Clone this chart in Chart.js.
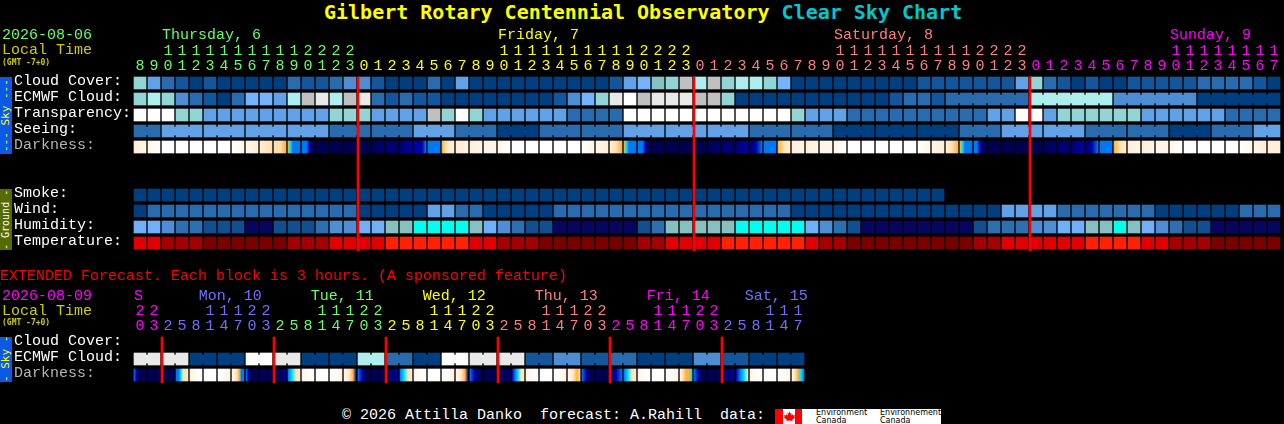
<!DOCTYPE html>
<html>
<head>
<meta charset="utf-8">
<title>Gilbert Rotary Centennial Observatory Clear Sky Chart</title>
<script src="https://cdn.jsdelivr.net/npm/chart.js@4"></script>
<style>
  body { margin: 0; background: #000; width: 1284px; height: 424px; overflow: hidden; position: relative; font-family: "Liberation Mono", monospace; }
  canvas { position: absolute; left: 0; }
  #title { position: absolute; top: 0; left: 324px; font: bold 20px/24px "DejaVu Sans Mono", monospace; color: #ffff00; white-space: pre; }
  #title span { color: #00c8d0; }
  .band { position: absolute; left: 0; width: 12px; writing-mode: vertical-rl; transform: rotate(180deg); text-align: center; font: 11px/12px "DejaVu Sans Mono", monospace; white-space: pre; }
  #footer { position: absolute; left: 342px; top: 407px; font-size: 15px; line-height: 17px; color: #fff; white-space: pre; }
  #logo { position: absolute; left: 775px; top: 409px; width: 166px; height: 15px; background: #fff; overflow: hidden; }
  #logo div { position: absolute; font: 8px/7.5px "DejaVu Sans", sans-serif; color: #000; white-space: pre; }
  #logo svg { position: absolute; left: 0; top: 0; }
</style>
</head>
<body>
<div id="title">Gilbert Rotary Centennial Observatory <span>Clear Sky Chart</span></div>
<div class="band" style="top:77px;height:77px;background:#0a5ae6;color:#ffff00">--- Sky ---</div>
<div class="band" style="top:189px;height:61px;background:#556b00;color:#fff;font-size:10px">- Ground -</div>
<div class="band" style="top:337px;height:45px;background:#0a5ae6;color:#ffff00">- Sky -</div>
<canvas id="topChart" width="1284" height="251" style="top:0"></canvas>
<canvas id="extChart" width="1284" height="119" style="top:264px"></canvas>
<div id="footer">© 2026 Attilla Danko  forecast: A.Rahill  data:</div>
<div id="logo">
  <svg width="27" height="15" viewBox="0 0 27 15">
    <rect x="0" width="8" height="15" fill="#f00"/>
    <rect x="20" width="7" height="15" fill="#f00"/>
    <path d="M14 2l1.3 2.4 1.2-.6-.4 2.8 1.6-1.4.5 1.2 1.8-.3-.6 1.9.8.4-2.9 2.4.3 1.1-2.9-.4V13h-.4v-1.5l-2.9.4.3-1.1-2.9-2.4.8-.4-.6-1.9 1.8.3.5-1.2 1.6 1.4-.4-2.8 1.2.6z" fill="#f00"/>
  </svg>
  <div style="left:41px;top:0">Environment
Canada</div>
  <div style="left:105px;top:0">Environnement
Canada</div>
</div>

<script>
// hours along the top, local time
const hours = [8,9,10,11,12,13,14,15,16,17,18,19,20,21,22,23,0,1,2,3,4,5,6,7,8,9,10,11,12,13,14,15,16,17,18,19,20,21,22,23,0,1,2,3,4,5,6,7,8,9,10,11,12,13,14,15,16,17,18,19,20,21,22,23,0,1,2,3,4,5,6,7,8,9,10,11,12,13,14,15,16,17];
const extHours = [20,23,2,5,8,11,14,17,20,23,2,5,8,11,14,17,20,23,2,5,8,11,14,17,20,23,2,5,8,11,14,17,20,23,2,5,8,11,14,17,20,23,2,5,8,11,14,17];

const rowNames = ['Cloud Cover:','ECMWF Cloud:','Transparency:','Seeing:','Darkness:','','','Smoke:','Wind:','Humidity:','Temperature:'];
const extRowNames = ['Cloud Cover:','ECMWF Cloud:','Darkness:'];

// sky levels, 0 = dark blue (good) to 11 = white (bad)
const cloudCover = [7,4,2,1,0,1,0,0,0,0,0,2,1,1,2,3,3,1,0,0,0,2,0,4,0,0,0,0,0,0,0,0,0,0,1,4,5,6,7,9,8,9,7,8,8,7,5,0,0,0,0,0,0,0,0,0,1,1,1,1,1,1,1,4,7,2,1,0,1,0,0,1,1,1,1,1,2,2,2,2,1,0];
const ecmwfCloud = [7,8,7,3,2,1,0,2,5,5,4,8,9,10,8,9,10,2,1,2,1,1,0,0,0,0,0,0,0,0,1,3,5,7,10,11,9,10,10,10,9,9,7,0,0,0,0,0,0,0,0,0,0,0,1,2,2,1,2,2,2,2,2,2,8,8,8,8,8,8,3,3,3,3,3,3,0,0,0,0,0,0];
const transparency = [11,11,11,7,7,4,4,4,4,4,4,4,4,4,7,7,7,4,4,4,4,9,7,11,7,4,4,4,4,4,4,2,2,2,2,11,11,11,11,11,11,11,11,11,11,11,11,7,4,4,4,2,2,2,2,2,2,2,2,2,2,4,4,11,11,4,7,7,7,7,7,7,4,4,4,4,4,4,2,2,2,2];
const seeing = [2,2,4,4,4,4,4,4,4,4,4,4,4,4,2,2,2,2,2,2,4,4,4,2,2,2,0,0,0,2,2,2,2,2,2,4,4,4,4,4,4,4,4,4,2,2,2,2,2,2,0,0,0,0,0,0,0,0,0,2,2,2,4,4,4,4,4,4,2,2,2,2,2,2,0,0,0,2,2,2,4,4];
const smoke = [0,0,0,0,0,0,0,0,0,0,0,0,0,0,0,0,0,0,0,0,0,0,0,0,0,0,0,0,0,0,0,0,0,0,0,0,0,0,0,0,0,0,0,0,0,0,0,0,0,0,0,0,0,0,0,0,0,0];
const wind = [0,2,2,2,2,2,2,2,2,2,2,2,2,2,2,2,0,0,0,0,0,4,4,2,2,0,0,0,0,0,2,2,2,2,2,2,2,2,2,2,2,2,2,2,2,2,2,0,0,0,0,0,0,0,0,0,0,0,0,0,0,0,4,4,4,4,2,2,2,2,2,2,2,0,0,0,0,0,0,2,2,2];
const humidity = [4,4,3,2,2,1,1,1,0,0,1,1,1,2,3,3,4,4,5,5,6,6,6,6,5,4,3,2,1,1,0,0,0,0,0,0,1,2,5,5,5,5,5,6,6,6,6,6,4,3,2,1,0,0,0,0,0,0,0,0,1,2,2,2,3,3,4,4,5,5,6,5,4,3,2,1,1,0,0,0,0,0];
const temperature = [2,2,1,1,1,0,0,0,0,0,0,1,1,1,2,2,2,2,3,3,3,3,3,3,2,2,1,1,1,0,0,0,0,0,0,0,1,1,2,2,2,2,3,3,3,3,3,3,2,1,1,0,0,0,0,0,0,0,0,0,1,1,2,2,2,2,2,2,3,3,3,3,2,2,1,1,1,0,0,0,0,0];
// darkness changes inside a block, so each block lists its levels left to right
const darkness = [[2,1],[1,0],[0],[0],[0],[0],[0],[0,1],[1,2],[2,3],[3,3,4],[4,5,6,6,6,6],[6,6,6,7,8,9],[9],[9],[9],[9,9],[9,8],[8],[8,7],[7,7,7,6],[6],[4,3,2,2],[2,2,1],[2,1],[1],[1,0],[0],[0],[0],[0],[0],[0,1],[1,2],[2,3,4],[4,5,6,6,6,6],[6,6,6,7,8,9],[9],[9],[9],[9],[9,8],[8],[8,7],[8,7,6],[6],[4,3,2],[2,1],[2,1],[1],[1,0],[0],[0],[0],[0],[0],[0,1],[1,2],[2,3,4],[4,5,6,6,6,6],[6,6,7,8,9],[9],[9],[9],[9],[9,8],[8],[8,7],[8,7,6],[6],[4,3,2],[2,1],[2,1],[1],[1,0],[0],[0],[0],[0],[0,1],[1,2],[2,2]];

const extEcmwf = [10,10,10,10,0,0,0,0,11,11,10,10,0,0,0,0,8,8,2,2,0,0,11,11,10,10,10,10,1,1,3,3,1,1,2,2,0,0,0,0,3,3,1,1,0,0,0,0];
const extDarkness = [[6,7,9,9,9,9],[9],[9,9,9,8],[6,6,5,3,3,2],[1,1,0,0],[0],[0,0,1,1],[1,2,3,4,6,6],[6,7,9,9,9,9],[9],[9,9,8,7],[6,5,3,2],[1,0],[0],[0,1],[1,2,3,4,7],[6,7,9,9],[9],[9,8,7],[6,5,3,2],[1,0],[0],[0,1],[1,2,3,4,7],[6,7,8,9],[9],[9,8],[7,6,5,3,2],[1,0],[0],[0,1],[1,2,3,4,3],[6,7,9,9],[9],[8,7,6],[6,5,3,2],[1,0],[0],[0,1],[1,3,4,4,5],[6,7,9,9],[9],[9,8,7],[7,6,5,3],[1,0],[0],[0,1],[1,3,4,5,6]];

// blocks joined by a thin link: [first column, last column]
const seeingSpans = [[0,1],[2,4],[5,7],[8,10],[11,13],[14,16],[17,19],[20,22],[23,25],[26,28],[29,31],[32,34],[35,37],[38,40],[41,43],[44,46],[47,49],[50,52],[53,55],[56,58],[59,61],[62,64],[65,67],[68,70],[71,73],[74,76],[77,79],[80,81]];
const ecmwfSpans = [[58,63],[64,69],[70,75],[76,81]];
const extEcmwfSpans = [[0,1],[2,3],[4,5],[6,7],[8,9],[10,11],[12,13],[14,15],[16,17],[18,19],[20,21],[22,23],[24,25],[26,27],[28,29],[30,31],[32,33],[34,35],[36,37],[38,39],[40,41],[42,43],[44,45],[46,47]];

const midnights = [16,40,64];
const extMidnights = [2,10,18,26,34,42];

const skyColors = ['#003f7f','#13569b','#2a6bae','#4e8dd2','#62a1e5','#77b3fc','#86c0c0','#93d5d5','#aeeeee','#c0c0c0','#e9e9e9','#ffffff'];
const humidityColors = ['#06065f','#124f8e','#2e6fb0','#4f8ed4','#70b0f8','#86c0c0','#00ffee'];
const temperatureColors = ['#7a0000','#a40000','#e00000','#ff2200'];
const darknessColors = ['#ffffff','#fff6ea','#ffeed8','#ffdfb0','#ffb040','#00e0ff','#0078f0','#0000a8','#000070','#000050'];

const green = '#66ff66', yellow = '#ffff00', salmon = '#ff7f7f', magenta = '#ff00ff', blue = '#7070ff';
const LOCAL = '#cccc00';

const FONT = '"Liberation Mono", monospace';
const SMALL_FONT = 'bold 8px "DejaVu Sans Mono", monospace';
const COLUMNS = 82; // both charts share the same block width

function dayColor(i) {
  if (i < 16) return green;
  if (i < 40) return yellow;
  if (i < 64) return salmon;
  return magenta;
}
function extDayColor(i) {
  if (i < 2) return magenta;
  if (i < 10) return blue;
  if (i < 18) return green;
  if (i < 26) return yellow;
  if (i < 34) return salmon;
  if (i < 42) return magenta;
  return blue;
}

const levelRow = (row, levels, colors) => ({
  data: levels.map((l, i) => ({ x: i, y: [row - 0.375, row + 0.375], level: l })),
  backgroundColor: ctx => ctx.raw ? colors[ctx.raw.level] : 'transparent'
});

const linkRow = (row, levels, colors, spans) => {
  const data = [];
  spans.forEach(([a, b]) => {
    for (let i = a; i < b; i++) data.push({ x: i + 0.5, y: [row - 0.25, row + 0.25], level: levels[i] });
  });
  return { data, barThickness: 2, backgroundColor: ctx => ctx.raw ? colors[ctx.raw.level] : 'transparent' };
};

const darkRow = (row, cells) => ({
  data: cells.map((c, i) => ({ x: i, y: [row - 0.375, row + 0.375], stops: c })),
  backgroundColor: ctx => {
    if (!ctx.raw) return 'transparent';
    const stops = ctx.raw.stops;
    const px = ctx.chart.scales.x.getPixelForValue(ctx.raw.x);
    // the scale has no size yet on the first pass
    if (stops.length === 1 || !isFinite(px)) return darknessColors[stops[0]];
    const g = ctx.chart.ctx.createLinearGradient(px - 6, 0, px + 6, 0);
    stops.forEach((s, k) => g.addColorStop(k / (stops.length - 1), darknessColors[s]));
    return g;
  }
});

// order -1 keeps the lines on top of the blocks
const midnightRow = (cols, top, bottom) => ({
  data: cols.map(c => ({ x: c - 6 / 14, y: [top, bottom] })),
  barThickness: 2,
  order: -1,
  backgroundColor: '#ff0000'
});

// text that sits above the grid: day names and the date block on the left
function headerPlugin(texts, days) {
  return {
    id: 'header',
    afterDraw(chart) {
      const ctx = chart.ctx;
      ctx.save();
      ctx.textBaseline = 'alphabetic';
      ctx.textAlign = 'left';
      texts.forEach(t => {
        ctx.font = t.font;
        ctx.fillStyle = t.color;
        ctx.fillText(t.text, t.x, t.y);
      });
      ctx.font = '15px ' + FONT;
      days.labels.forEach((d, i) => {
        ctx.fillStyle = days.colors[i];
        ctx.fillText(d, chart.scales.x.getPixelForValue(days.cols[i]), days.y);
      });
      ctx.restore();
    }
  };
}

// labels must not push the plot area in, the grid sits on exact pixels
function noMargins(s) {
  s.paddingLeft = s.paddingRight = s.paddingTop = s.paddingBottom = 0;
}

function makeChart(id, cfg) {
  return new Chart(document.getElementById(id), {
    type: 'bar',
    data: { datasets: cfg.datasets },
    options: {
      responsive: false,
      animation: false,
      devicePixelRatio: 1,
      layout: { padding: { left: 14, right: 3, top: 0, bottom: 0 } },
      datasets: { bar: { grouped: false, barThickness: 12, borderWidth: 0 } },
      plugins: { legend: { display: false }, tooltip: { enabled: false } },
      scales: {
        x: {
          type: 'linear', position: 'top', offset: false, min: -0.5, max: COLUMNS - 0.5,
          grid: { display: false, drawTicks: false }, border: { display: false },
          afterBuildTicks: s => { s.ticks = cfg.hours.map((h, i) => ({ value: i })); },
          afterFit: s => { s.height = cfg.axisHeight; noMargins(s); },
          ticks: {
            autoSkip: false, maxRotation: 0, padding: 1,
            font: { family: FONT, size: 15, lineHeight: 15 / 15 },
            color: ctx => cfg.tickColor(ctx.index),
            callback: v => {
              const h = cfg.hours[v];
              return h >= 10 ? [String(Math.floor(h / 10)), String(h % 10)] : ['', String(h)];
            }
          }
        },
        y: {
          type: 'linear', reverse: true, min: -0.5, max: cfg.rows.length - 0.5,
          grid: { display: false, drawTicks: false }, border: { display: false },
          afterBuildTicks: s => { s.ticks = cfg.rows.map((r, i) => ({ value: i })); },
          afterFit: s => { s.width = 119; noMargins(s); },
          ticks: {
            autoSkip: false, crossAlign: 'far', padding: 0, labelOffset: -2,
            font: { family: FONT, size: 15 },
            color: ctx => cfg.rows[ctx.index] === 'Darkness:' ? '#b4b4b4' : '#ffffff',
            callback: v => cfg.rows[v]
          }
        }
      }
    },
    plugins: [headerPlugin(cfg.texts, cfg.days)]
  });
}

makeChart('topChart', {
  hours, rows: rowNames, axisHeight: 75, tickColor: dayColor,
  datasets: [
    levelRow(0, cloudCover, skyColors),
    levelRow(1, ecmwfCloud, skyColors),
    linkRow(1, ecmwfCloud, skyColors, ecmwfSpans),
    levelRow(2, transparency, skyColors),
    levelRow(3, seeing, skyColors),
    linkRow(3, seeing, skyColors, seeingSpans),
    darkRow(4, darkness),
    levelRow(7, smoke, skyColors),
    levelRow(8, wind, skyColors),
    levelRow(9, humidity, humidityColors),
    levelRow(10, temperature, temperatureColors),
    midnightRow(midnights, -0.375, 10.5)
  ],
  texts: [
    { text: '2026-08-06', x: 2, y: 39, color: green, font: '15px ' + FONT },
    { text: 'Local Time', x: 2, y: 54, color: LOCAL, font: '15px ' + FONT },
    { text: '(GMT -7+0)', x: 2, y: 65, color: LOCAL, font: SMALL_FONT }
  ],
  days: {
    labels: ['Thursday, 6', 'Friday, 7', 'Saturday, 8', 'Sunday, 9'],
    cols: [1.57, 25.57, 49.57, 73.57],
    colors: [green, yellow, salmon, magenta],
    y: 39
  }
});

makeChart('extChart', {
  hours: extHours, rows: extRowNames, axisHeight: 71, tickColor: extDayColor,
  datasets: [
    levelRow(1, extEcmwf, skyColors),
    linkRow(1, extEcmwf, skyColors, extEcmwfSpans),
    darkRow(2, extDarkness),
    midnightRow(extMidnights, -0.375, 2.5)
  ],
  texts: [
    { text: 'EXTENDED Forecast. Each block is 3 hours. (A sponsored feature)', x: 0, y: 16, color: '#ff0000', font: '15px ' + FONT },
    { text: '2026-08-09', x: 2, y: 36, color: magenta, font: '15px ' + FONT },
    { text: 'Local Time', x: 2, y: 51, color: LOCAL, font: '15px ' + FONT },
    { text: '(GMT -7+0)', x: 2, y: 61, color: LOCAL, font: SMALL_FONT }
  ],
  days: {
    labels: ['S', 'Mon, 10', 'Tue, 11', 'Wed, 12', 'Thu, 13', 'Fri, 14', 'Sat, 15'],
    cols: [-0.43, 4.2, 12.2, 20.2, 28.2, 36.2, 43.2],
    colors: [magenta, blue, green, yellow, salmon, magenta, blue],
    y: 36
  }
});
</script>
</body>
</html>
